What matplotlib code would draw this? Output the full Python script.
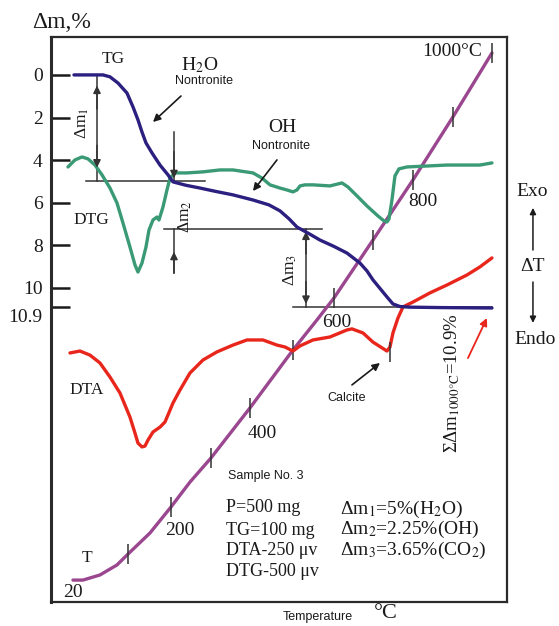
import matplotlib
matplotlib.use('Agg')
import matplotlib.pyplot as plt

plt.rcParams['font.family'] = ['Liberation Serif', 'DejaVu Serif']
plt.rcParams['mathtext.fontset'] = 'stix'

# x: heating time (arb. units), y: mass loss in % (all curves share one frame)

# TG curve
tg_x = [23, 46, 52, 59, 67, 76, 82, 87, 91, 95, 101, 109, 117, 122, 135, 149, 165, 182,
        202, 218, 229, 238, 246, 258, 269, 283, 296, 309, 316, 322, 329, 336, 342, 349,
        359, 390, 441]
tg_y = [0, 0, 0, 0.09, 0.38, 0.85, 1.5, 2.11, 2.68, 3.19, 3.66, 4.23, 4.69, 5.02, 5.18,
        5.31, 5.47, 5.63, 5.87, 6.1, 6.38, 6.75, 7.14, 7.45, 7.75, 8.05, 8.36, 8.83, 9.2,
        9.62, 10.02, 10.42, 10.75, 10.87, 10.9, 10.92, 10.94]

# DTG curve
dtg_x = [17, 24, 31, 37, 44, 51, 59, 66, 72, 79, 84, 87, 91, 95, 98, 102, 106, 108, 112,
         116, 119, 124, 136, 152, 169, 182, 202, 211, 219, 229, 236, 242, 246, 249, 254,
         262, 279, 291, 297, 305, 316, 327, 333, 336, 338, 341, 344, 348, 356, 396, 429, 441]
dtg_y = [4.32, 3.99, 3.85, 3.94, 4.23, 4.69, 5.31, 6.01, 6.95, 8.08, 8.92, 9.25, 8.83,
         8.08, 7.28, 6.81, 6.67, 6.81, 6.2, 5.4, 4.84, 4.6, 4.6, 4.55, 4.46, 4.46, 4.6,
         4.84, 5.16, 5.31, 5.4, 5.49, 5.4, 5.21, 5.16, 5.16, 5.21, 5.07, 5.26, 5.63, 6.15,
         6.62, 6.85, 6.9, 6.76, 5.87, 4.74, 4.41, 4.32, 4.23, 4.23, 4.13]

# DTA curve
dta_x = [19, 29, 39, 49, 59, 69, 79, 84, 87, 91, 94, 97, 102, 109, 114, 117, 122, 129,
         139, 152, 166, 182, 196, 212, 226, 234, 242, 249, 262, 279, 296, 301, 312, 322,
         336, 339, 342, 347, 352, 362, 379, 396, 416, 429, 441]
dta_y = [13.05, 12.96, 13.15, 13.52, 14.18, 14.93, 16.06, 16.81, 17.28, 17.46, 17.42,
         17.14, 16.76, 16.53, 16.29, 15.96, 15.4, 14.79, 13.99, 13.38, 13.0, 12.68, 12.44,
         12.44, 12.68, 12.77, 12.96, 12.72, 12.44, 12.3, 11.97, 11.92, 12.11, 12.54, 12.96,
         12.77, 12.11, 11.41, 10.89, 10.66, 10.23, 9.86, 9.39, 9.01, 8.59]

# T curve
t_x = [22, 32, 49, 66, 77, 99, 120, 139, 160, 199, 242, 266, 283, 322, 362, 402, 441]
t_y = [23.71, 23.71, 23.47, 23.0, 22.49, 21.5, 20.28, 19.11, 17.98, 15.63, 12.91, 11.5,
       10.47, 7.75, 4.93, 1.97, -1.03]

# temperature marks on T curve (100 ... 1000 C)
mark_temp = [100, 200, 300, 400, 500, 600, 700, 800, 900, 1000]
mark_x = [77, 120, 160, 199, 242, 283, 322, 362, 402, 441]
mark_y = [22.49, 20.28, 17.98, 15.63, 12.91, 10.47, 7.75, 4.93, 1.97, -1.03]
temp_labels = ['20', '200', '400', '600', '800', '1000°C']
temp_label_x = [22, 129, 211, 286, 372, 401]
temp_label_y = [24.27, 21.36, 16.81, 11.64, 5.96, -1.08]

# mass loss steps
dm_steps = [5, 2.25, 3.65]
dm_levels = [5, 7.25, 10.9]

yticks = [0, 2, 4, 6, 8, 10, 10.9]

c_tg = '#2b1f80'
c_dtg = '#3a9a76'
c_dta = '#e8261c'
c_t = '#9a4790'
c_txt = '#1a1a1a'
c_ln = '#333333'

fig = plt.figure(figsize=(5.59, 6.26), dpi=100)
ax = fig.add_axes([0.0912, 0.0383, 0.8157, 0.9026])

lkw = dict(lw=2.4, solid_capstyle='round', solid_joinstyle='round')
ax.plot(t_x, t_y, color=c_t, zorder=2, **lkw)
ax.plot(mark_x, mark_y, ls='none', marker='|', ms=15, mew=1.1, color='#333', zorder=3)
ax.plot(dta_x, dta_y, color=c_dta, zorder=3, **lkw)
ax.plot([339], [13.0], ls='none', marker='|', ms=15, mew=1.1, color='#333', zorder=3)
ax.plot(dtg_x, dtg_y, color=c_dtg, zorder=3, **lkw)
ax.plot(tg_x, tg_y, color=c_tg, zorder=4, **lkw)

# dimension lines
ax.plot([35, 154], [dm_levels[0]] * 2, color=c_ln, lw=1.1, zorder=1)
ax.plot([113, 271], [dm_levels[1]] * 2, color=c_ln, lw=1.1, zorder=1)
ax.plot([242, 441], [dm_levels[2]] * 2, color=c_ln, lw=1.1, zorder=1)

aprops = dict(arrowstyle='-|>', color=c_ln, lw=1.1, mutation_scale=11, shrinkA=0, shrinkB=0)
# dm1
ax.plot([46, 46], [0, dm_levels[0]], color=c_ln, lw=1.1, zorder=1)
ax.annotate('', xy=(46, 0.5), xytext=(46, 1.6), arrowprops=aprops)
ax.annotate('', xy=(46, 4.35), xytext=(46, 3.3), arrowprops=aprops)
# dm2
ax.plot([123, 123], [2.7, dm_levels[0]], color=c_ln, lw=1.1, zorder=1)
ax.annotate('', xy=(123, 4.85), xytext=(123, 3.6), arrowprops=aprops)
ax.plot([123, 123], [dm_levels[1], 9.3], color=c_ln, lw=1.1, zorder=1)
ax.annotate('', xy=(123, 8.3), xytext=(123, 9.3), arrowprops=aprops)
# dm3
ax.plot([255, 255], [dm_levels[1], dm_levels[2]], color=c_ln, lw=1.1, zorder=1)
ax.annotate('', xy=(255, 7.35), xytext=(255, 8.4), arrowprops=aprops)
ax.annotate('', xy=(255, 10.75), xytext=(255, 9.7), arrowprops=aprops)

ax.text(31, 2.25, 'Δm$_1$', rotation=90, fontsize=12.5, ha='center', va='center', color=c_txt)
ax.text(134, 6.67, 'Δm$_2$', rotation=90, fontsize=12.5, ha='center', va='center', color=c_txt)
ax.text(239, 9.15, 'Δm$_3$', rotation=90, fontsize=12.5, ha='center', va='center', color=c_txt)

# curve labels
ax.text(62, -0.75, 'TG', fontsize=12.5, ha='center', va='center', color=c_txt)
ax.text(40, 6.81, 'DTG', fontsize=12.5, ha='center', va='center', color=c_txt)
ax.text(36, 14.79, 'DTA', fontsize=12.5, ha='center', va='center', color=c_txt)
ax.text(36, 22.68, 'T', fontsize=12.5, ha='center', va='center', color=c_txt)
for lab, lx, ly in zip(temp_labels, temp_label_x, temp_label_y):
    ax.text(lx, ly, lab, fontsize=14, ha='center', va='center', color=c_txt)

# peak annotations
arr = dict(arrowstyle='-|>', color=c_txt, lw=1.2, mutation_scale=11, shrinkA=0, shrinkB=0)
ax.text(149, -0.47, 'H$_2$O', fontsize=14, ha='center', va='center', color=c_txt)
ax.text(153, 0.28, 'Nontronite', fontsize=9, family='Liberation Sans', ha='center', va='center', color=c_txt)
ax.annotate('', xy=(102, 2.21), xytext=(130, 0.99), arrowprops=arr)
ax.text(231, 2.49, 'OH', fontsize=14, ha='center', va='center', color=c_txt)
ax.text(230, 3.33, 'Nontronite', fontsize=9, family='Liberation Sans', ha='center', va='center', color=c_txt)
ax.annotate('', xy=(202, 5.45), xytext=(226, 3.99), arrowprops=arr)
ax.text(296, 15.16, 'Calcite', fontsize=9, family='Liberation Sans', ha='center', va='center', color=c_txt)
ax.annotate('', xy=(329, 13.52), xytext=(301, 14.55), arrowprops=arr)

ax.text(401, 14.46, r'ΣΔm$_{1000°\mathrm{C}}$=10.9%', rotation=90, fontsize=13.5,
        ha='center', va='center', color=c_txt)
ax.annotate('', xy=(436, 11.41), xytext=(417, 13.29),
            arrowprops=dict(arrowstyle='-|>', color=c_dta, lw=1.3, mutation_scale=11, shrinkA=0, shrinkB=0))

# sample info
ax.text(177, 18.83, 'Sample No. 3', fontsize=9, family='Liberation Sans', ha='left', va='center', color=c_txt)
info_left = ['P=500 mg', 'TG=100 mg', 'DTA-250 μv', 'DTG-500 μv']
info_left_y = [20.28, 21.36, 22.3, 23.33]
for s, yy in zip(info_left, info_left_y):
    ax.text(175, yy, s, fontsize=13, ha='left', va='center', color=c_txt)
info_right = ['Δm$_1$=%g%%(H$_2$O)' % dm_steps[0],
              'Δm$_2$=%g%%(OH)' % dm_steps[1],
              'Δm$_3$=%g%%(CO$_2$)' % dm_steps[2]]
info_right_y = [20.38, 21.31, 22.3]
for s, yy in zip(info_right, info_right_y):
    ax.text(289, yy, s, fontsize=14, ha='left', va='center', color=c_txt)

# Exo / Endo scale outside the frame
ax.text(481, 5.45, 'Exo', fontsize=14, ha='center', va='center', color=c_txt)
ax.text(482, 8.97, 'ΔT', fontsize=14, ha='center', va='center', color=c_txt)
ax.text(484, 12.44, 'Endo', fontsize=14, ha='center', va='center', color=c_txt)
sarr = dict(arrowstyle='-|>', color=c_txt, lw=1.1, mutation_scale=9, shrinkA=0, shrinkB=0)
ax.annotate('', xy=(482, 6.24), xytext=(482, 8.22), annotation_clip=False, arrowprops=sarr)
ax.annotate('', xy=(482, 11.64), xytext=(482, 9.72), annotation_clip=False, arrowprops=sarr)

ax.text(267, 25.45, 'Temperature', fontsize=9, family='Liberation Sans', ha='center', va='center', color=c_txt)
ax.text(335, 25.3, '°C', fontsize=16, ha='center', va='center', color=c_txt)

# axes
ax.set_xlim(0, 456)
ax.set_ylim(24.74, -1.78)
ax.set_xticks([])
ax.set_yticks(yticks)
ax.set_yticklabels(['0', '2', '4', '6', '8', '10', ''])
ax.tick_params(axis='y', direction='in', length=14, width=1.8, pad=6, labelsize=14,
               colors=c_txt)
ytr = ax.get_yaxis_transform()
ax.text(-0.018, 11.4, '10.9', transform=ytr, fontsize=14, ha='right', va='center', color=c_txt)
ax.text(-0.042, -2.46, 'Δm,%', transform=ytr, fontsize=17, ha='left', va='center', color=c_txt)
for side in ['top', 'right', 'bottom']:
    ax.spines[side].set_linewidth(1.6)
    ax.spines[side].set_color('#2a2a2a')
ax.spines['left'].set_linewidth(2.2)
ax.spines['left'].set_color('#2a2a2a')

plt.savefig('out.png', dpi=100)
plt.close()
